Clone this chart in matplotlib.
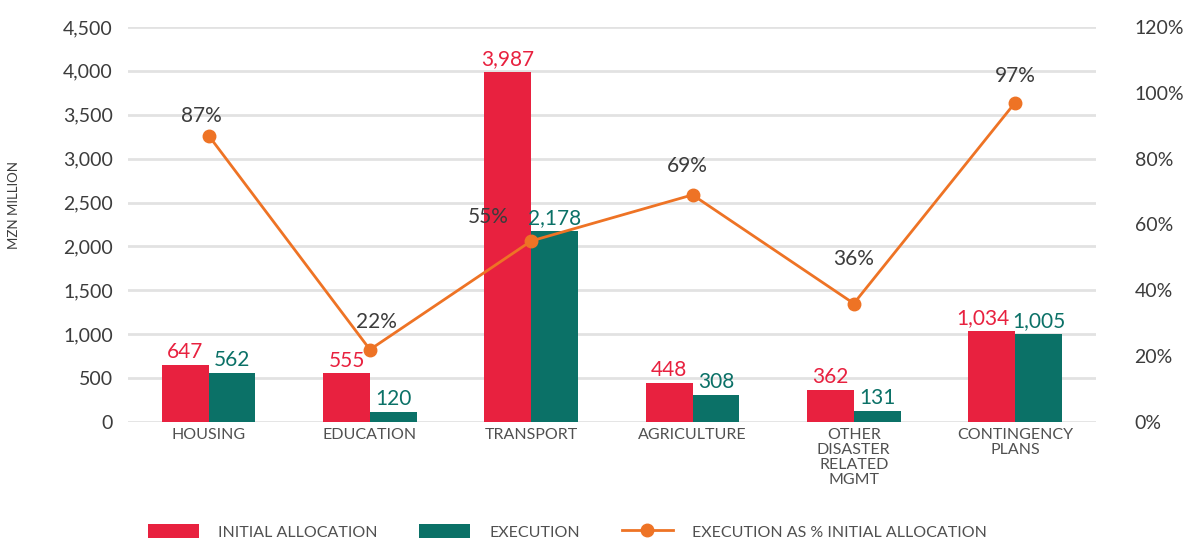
import numpy as np
import matplotlib.pyplot as plt
from matplotlib.patches import Patch
from matplotlib.lines import Line2D

plt.rcParams['font.family'] = ['Lato', 'DejaVu Sans']

# Data
categories = ["HOUSING", "EDUCATION", "TRANSPORT", "AGRICULTURE",
              "OTHER\nDISASTER\nRELATED\nMGMT", "CONTINGENCY\nPLANS"]
initial_allocation = [647, 555, 3987, 448, 362, 1034]
execution = [562, 120, 2178, 308, 131, 1005]
execution_pct = [0.87, 0.22, 0.55, 0.69, 0.36, 0.97]

# label nudges (points) so neighbouring labels don't collide
pct_offsets = [(-5, 14), (5, 20), (-31, 17), (-4, 21), (0, 32), (0, 19)]
init_label_dx = [0, 0, 0, 0, 0, -6]

left_ticks = np.arange(0, 4501, 500)
right_ticks = np.arange(0, 1.21, 0.2)

RED = "#E8213F"
TEAL = "#0B7167"
ORANGE = "#EE7325"
TEXT = "#3C3C3C"
GRID = "#E2E2E2"

fig = plt.figure(figsize=(11.91, 5.39), dpi=100)
ax = fig.add_axes([0.1075, 0.217, 0.8125, 0.733])

x = np.arange(len(categories))
w = 0.29

ax.bar(x - w / 2, initial_allocation, w, color=RED, zorder=2)
ax.bar(x + w / 2, execution, w, color=TEAL, zorder=2)

# Bar value labels
for xi, v, dx in zip(x, initial_allocation, init_label_dx):
    ax.annotate(f"{v:,}", (xi - w / 2, v), xytext=(dx, 2), textcoords="offset points",
                ha="center", va="bottom", fontsize=15, color=RED)
for xi, v in zip(x, execution):
    ax.annotate(f"{v:,}", (xi + w / 2, v), xytext=(0, 2), textcoords="offset points",
                ha="center", va="bottom", fontsize=15, color=TEAL)

ax.set_xlim(-0.5, len(categories) - 0.5)
ax.set_ylim(0, 4500)
ax.set_yticks(left_ticks)
ax.set_yticklabels([f"{t:,}" for t in left_ticks])
ax.set_xticks(x)
ax.set_xticklabels(categories, fontsize=11.5, color="#505050", linespacing=1.1)
ax.tick_params(axis="y", length=0, pad=11, labelsize=14, labelcolor=TEXT)
ax.tick_params(axis="x", length=0, pad=4)
ax.grid(axis="y", color=GRID, linewidth=2, zorder=0)
for s in ax.spines.values():
    s.set_visible(False)
ax.set_ylabel("MZN MILLION", fontsize=9.5, color=TEXT)
ax.yaxis.set_label_coords(-0.112, 0.55)

# Secondary axis for execution %
ax2 = ax.twinx()
ax2.plot(x, execution_pct, color=ORANGE, linewidth=2, marker="o", markersize=9, zorder=3)
for xi, p, off in zip(x, execution_pct, pct_offsets):
    ax2.annotate(f"{p * 100:.0f}%", (xi, p), xytext=off, textcoords="offset points",
                 ha="center", va="center", fontsize=15, color=TEXT)
ax2.set_ylim(0, 1.2)
ax2.set_yticks(right_ticks)
ax2.set_yticklabels([f"{t * 100:.0f}%" for t in right_ticks])
ax2.tick_params(axis="y", length=0, pad=28, labelsize=14, labelcolor=TEXT)
for s in ax2.spines.values():
    s.set_visible(False)

handles = [
    Patch(facecolor=RED, label="INITIAL ALLOCATION"),
    Patch(facecolor=TEAL, label="EXECUTION"),
    Line2D([0], [0], color=ORANGE, linewidth=2, marker="o", markersize=9,
           label="EXECUTION AS % INITIAL ALLOCATION"),
]
fig.legend(handles=handles, loc="center left", bbox_to_anchor=(0.112, 0.013), ncol=3,
           frameon=False, fontsize=11.5, handlelength=3.2, handleheight=1.0,
           handletextpad=1.2, columnspacing=2.6, labelcolor="#505050")

fig.savefig("out.png", dpi=100)
